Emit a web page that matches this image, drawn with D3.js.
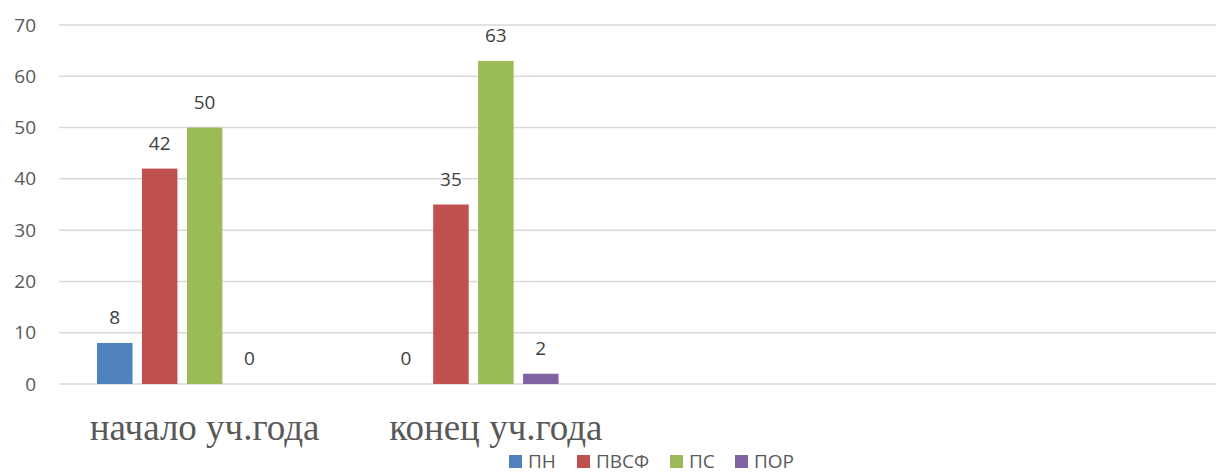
<!DOCTYPE html>
<html>
<head>
<meta charset="utf-8">
<script src="https://cdn.jsdelivr.net/npm/d3@7"></script>
<style>
  body { margin: 0; background: #fff; }
  svg { display: block; overflow: hidden; }
</style>
</head>
<body>
<svg id="chart"></svg>
<script>
// categories on the x axis (last two are empty slots in the source sheet)
const categories = ['начало уч.года', 'конец уч.года', '', ' '];
const seriesNames = ['ПН', 'ПВСФ', 'ПС', 'ПОР'];
const seriesColors = ['#4F81BD', '#C0504D', '#9BBB59', '#8064A2'];
// one value per category for each series (null = no data)
const valuesPN   = [8, 0, null, null];
const valuesPVSF = [42, 35, null, null];
const valuesPS   = [50, 63, null, null];
const valuesPOR  = [0, 2, null, null];
const yTicks = [0, 10, 20, 30, 40, 50, 60, 70];

const seriesValues = [valuesPN, valuesPVSF, valuesPS, valuesPOR];

const width = 1216, height = 475;
const margin = {top: 25, right: -8, bottom: 91, left: 59};
const innerW = width - margin.left - margin.right;
const innerH = height - margin.top - margin.bottom;

const svg = d3.select('#chart').attr('width', width).attr('height', height);
const g = svg.append('g').attr('transform', `translate(${margin.left},${margin.top})`);

const x0 = d3.scaleBand().domain(categories).range([0, innerW]);
// the sheet has a fifth (hidden) series slot, so keep room for it
const x1 = d3.scaleBand().domain([...seriesNames, '_hidden'])
  .range([38, x0.bandwidth() - 38])
  .paddingInner(0.21);
const y = d3.scaleLinear().domain([0, 70]).range([innerH, 0]);

// gridlines
g.append('g')
  .selectAll('line')
  .data(yTicks)
  .join('line')
  .attr('x1', 0).attr('x2', innerW)
  .attr('y1', d => y(d)).attr('y2', d => y(d))
  .attr('stroke', '#D9D9D9')
  .attr('stroke-width', 1.5);

// y axis labels
const yAxis = d3.axisLeft(y).tickValues(yTicks).tickSize(0).tickPadding(23);
const yAxisG = g.append('g').call(yAxis);
yAxisG.select('.domain').remove();
yAxisG.selectAll('text')
  .attr('fill', '#595959')
  .style('font-family', '"Open Sans", sans-serif')
  .style('font-size', '19px');

// bars + value labels
const rows = [];
categories.forEach((c, ci) => {
  seriesNames.forEach((s, si) => {
    const v = seriesValues[si][ci];
    if (v !== null) rows.push({cat: c, series: s, value: v, color: seriesColors[si]});
  });
});

g.append('g')
  .selectAll('rect')
  .data(rows)
  .join('rect')
  .attr('x', d => x0(d.cat) + x1(d.series))
  .attr('width', x1.bandwidth())
  .attr('y', d => y(d.value))
  .attr('height', d => innerH - y(d.value))
  .attr('fill', d => d.color);

g.append('g')
  .selectAll('text')
  .data(rows)
  .join('text')
  .attr('x', d => x0(d.cat) + x1(d.series) + x1.bandwidth() / 2)
  .attr('y', d => y(d.value) - 19)
  .attr('text-anchor', 'middle')
  .attr('fill', '#404040')
  .style('font-family', '"Open Sans", sans-serif')
  .style('font-size', '19px')
  .text(d => d.value);

// category labels
g.append('g')
  .selectAll('text')
  .data(categories)
  .join('text')
  .attr('x', d => x0(d) + x0.bandwidth() / 2)
  .attr('y', innerH + 56)
  .attr('text-anchor', 'middle')
  .attr('fill', '#595959')
  .style('font-family', '"Liberation Serif", "Times New Roman", serif')
  .style('font-size', '37px')
  .text(d => d.trim());

// legend
const legendX = [509, 577, 670, 735];
const legend = svg.append('g')
  .selectAll('g')
  .data(seriesNames)
  .join('g')
  .attr('transform', (d, i) => `translate(${legendX[i]},455)`);
legend.append('rect')
  .attr('width', 13).attr('height', 13)
  .attr('fill', (d, i) => seriesColors[i]);
legend.append('text')
  .attr('x', 19).attr('y', 13)
  .attr('fill', '#595959')
  .style('font-family', '"Open Sans", sans-serif')
  .style('font-size', '19px')
  .text(d => d);
</script>
</body>
</html>
